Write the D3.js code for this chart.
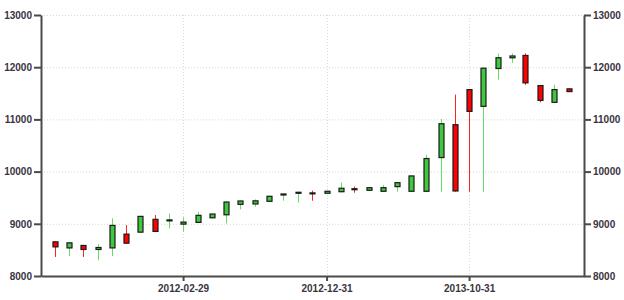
<!DOCTYPE html>
<html>
<head>
<meta charset="utf-8">
<script src="https://cdn.jsdelivr.net/npm/d3@7"></script>
<style>
  body { margin: 0; background: #fff; }
  .axis path, .axis line { stroke: #4a4a4a; stroke-width: 2px; }
  .axis text { font-family: "Liberation Sans", Arial, sans-serif; font-size: 10px; font-weight: bold; fill: #3a3440; }
  .grid line { stroke: #d8d8d8; stroke-dasharray: 1,2; }
</style>
</head>
<body>
<div id="chart"></div>
<script>
// monthly candles
const dates = ["2011-05-31","2011-06-30","2011-07-31","2011-08-31","2011-09-30","2011-10-31",
  "2011-11-30","2011-12-31","2012-01-31","2012-02-29","2012-03-31","2012-04-30",
  "2012-05-31","2012-06-30","2012-07-31","2012-08-31","2012-09-30","2012-10-31",
  "2012-11-30","2012-12-31","2013-01-31","2013-02-28","2013-03-31","2013-04-30",
  "2013-05-31","2013-06-30","2013-07-31","2013-08-31","2013-09-30","2013-10-31",
  "2013-11-30","2013-12-31","2014-01-31","2014-02-28","2014-03-31","2014-04-30","2014-05-31"];
const open  = [8654,8538,8585,8508,8538,8802,8840,9085,9060,8994,9027,9115,9173,9373,9380,9431,9562,9598,
  9592,9585,9615,9672,9642,9623,9712,9623,9623,10269,10898,11571,11250,11975,12180,12225,11648,11327,11585];
const high  = [8665,8640,8592,8610,9104,8975,9150,9167,9200,9123,9231,9195,9425,9445,9469,9535,9575,9606,
  9635,9630,9788,9712,9700,9744,9795,9925,10321,11008,11475,11580,11990,12263,12263,12263,11655,11662,11590];
const low   = [8365,8380,8365,8302,8380,8622,8832,8848,8912,8846,9020,9105,9008,9277,9327,9425,9442,9404,
  9442,9580,9600,9596,9636,9618,9615,9615,9615,9615,9615,9615,9615,11763,12085,11662,11327,11320,11530];
const close = [8558,8635,8508,8546,8969,8629,9142,8854,9075,9033,9162,9187,9417,9437,9440,9527,9571,9604,
  9580,9623,9681,9662,9692,9692,9788,9917,10250,10917,9629,11154,11981,12181,12215,11700,11365,11571,11533];

const yTicks = [8000, 9000, 10000, 11000, 12000, 13000];
const xTicks = ["2012-02-29", "2012-12-31", "2013-10-31"];

const width = 624, height = 300;
const m = { left: 41, right: 584, top: 15, bottom: 276 };

const parse = d3.utcParse("%Y-%m-%d");
const data = dates.map((d, i) => ({
  date: parse(d), o: open[i], h: high[i], l: low[i], c: close[i]
}));

const x = d3.scaleUtc()
  .domain([parse("2011-05-02"), parse("2014-07-03")])
  .range([m.left, m.right]);
const y = d3.scaleLinear()
  .domain([8000, 13000])
  .range([m.bottom, m.top]);

const svg = d3.select("#chart").append("svg")
  .attr("width", width)
  .attr("height", height);

// dotted grid
const grid = svg.append("g").attr("class", "grid");
grid.selectAll(".h").data(yTicks).enter().append("line")
  .attr("x1", m.left).attr("x2", m.right)
  .attr("y1", d => y(d) + 0.5).attr("y2", d => y(d) + 0.5);
grid.selectAll(".v").data(xTicks).enter().append("line")
  .attr("x1", d => Math.round(x(parse(d))) + 0.5)
  .attr("x2", d => Math.round(x(parse(d))) + 0.5)
  .attr("y1", m.top).attr("y2", m.bottom);

// candles
const bodyW = 5;
const candle = svg.append("g").selectAll("g")
  .data(data).enter().append("g")
  .attr("transform", d => "translate(" + Math.round(x(d.date)) + ",0)");

candle.append("line")
  .attr("x1", 0.5).attr("x2", 0.5)
  .attr("y1", d => y(d.h)).attr("y2", d => y(d.l))
  .attr("stroke", d => d.c >= d.o ? "#66dd66" : "#ff2020")
  .attr("stroke-width", 1);

candle.append("rect")
  .attr("x", -bodyW / 2 + 0.5)
  .attr("y", d => y(Math.max(d.o, d.c)))
  .attr("width", bodyW)
  .attr("height", d => Math.max(1, Math.abs(y(d.o) - y(d.c))))
  .attr("fill", d => d.c >= d.o ? "#3ec83e" : "#ff0000")
  .attr("stroke", "#1a1a1a")
  .attr("stroke-width", 1.2);

// axes
svg.append("g").attr("class", "axis")
  .attr("transform", "translate(" + m.left + ",0)")
  .call(d3.axisLeft(y).tickValues(yTicks).tickFormat(d3.format("d"))
    .tickSize(7).tickPadding(2).tickSizeOuter(0));

svg.append("g").attr("class", "axis")
  .attr("transform", "translate(" + m.right + ",0)")
  .call(d3.axisRight(y).tickValues(yTicks).tickFormat(d3.format("d"))
    .tickSize(7).tickPadding(2).tickSizeOuter(0));

svg.append("g").attr("class", "axis")
  .attr("transform", "translate(0," + m.bottom + ")")
  .call(d3.axisBottom(x).tickValues(xTicks.map(parse))
    .tickFormat(d3.utcFormat("%Y-%m-%d")).tickSize(5).tickPadding(4).tickSizeOuter(0));
</script>
</body>
</html>
